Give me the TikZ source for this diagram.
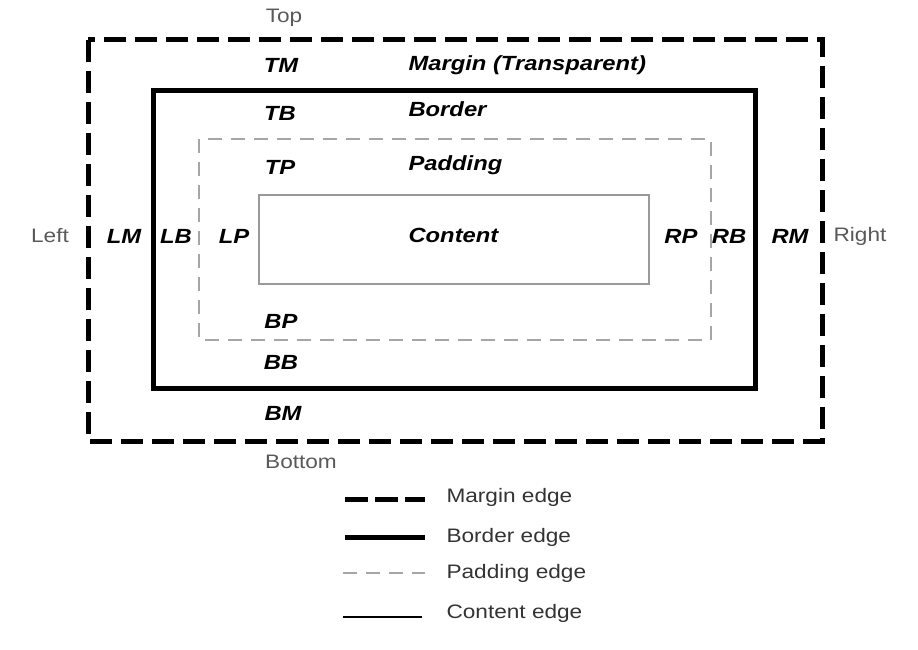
\documentclass[tikz,border=0pt]{standalone}
\usepackage{fontspec}
\setmainfont{Liberation Sans}[FakeStretch=1.16]
\begin{document}
\begin{tikzpicture}[x=1pt,y=-1pt,
  marginedge/.style={line width=5pt,dash pattern=on 22pt off 9pt},
  borderedge/.style={line width=5pt},
  paddingedge/.style={line width=1.3pt,draw=black!35,dash pattern=on 14pt off 9pt},
  contentedge/.style={line width=1.4pt,draw=black!40},
  lbl/.style={font=\fontsize{20.5}{23}\selectfont\bfseries\itshape},
  side/.style={font=\fontsize{19.5}{22}\selectfont,text=black!65},
  leg/.style={font=\fontsize{19.5}{22}\selectfont,text=black!80,anchor=west},
]
\useasboundingbox (0,0) rectangle (918,650);
% boxes
\draw[marginedge] (88,40) rectangle (822,441);
\draw[borderedge] (153,91) rectangle (755,388);
\draw[paddingedge] (199,139) rectangle (711,340);
\draw[contentedge] (259,195) rectangle (649,284);
% sides
\node[side] (top) at (284,18) {Top};
\node[side] (bottom) at (301,462) {Bottom};
\node[side] (left) at (50,236) {Left};
\node[side] (right) at (860,236) {Right};
% labels
\node[lbl] (tm) at (281,65) {TM};
\node[lbl] (tb) at (280,113) {TB};
\node[lbl] (tp) at (280,167) {TP};
\node[lbl] (bp) at (281,321) {BP};
\node[lbl] (bb) at (281,362) {BB};
\node[lbl] (bm) at (283,413) {BM};
\node[lbl] (lm) at (124,236) {LM};
\node[lbl] (lb) at (176,236) {LB};
\node[lbl] (lp) at (234,236) {LP};
\node[lbl] (rp) at (681,236) {RP};
\node[lbl] (rb) at (729,236) {RB};
\node[lbl] (rm) at (790,236) {RM};
\node[lbl,anchor=west] (mt) at (405,65) {Margin (Transparent)};
\node[lbl,anchor=west] (bt) at (405,109) {Border};
\node[lbl,anchor=west] (pt) at (405,165) {Padding};
\node[lbl,anchor=west] (ct) at (405,235) {Content};
% legend
\coordinate (l1a) at (345,499); \coordinate (l1b) at (425,499);
\coordinate (l2a) at (345,537); \coordinate (l2b) at (425,537);
\coordinate (l3a) at (343,573); \coordinate (l3b) at (425,573);
\coordinate (l4a) at (343,617); \coordinate (l4b) at (422,617);
\draw[line width=5pt,dash pattern=on 23pt off 7pt] (l1a) -- (l1b);
\draw[borderedge] (l2a) -- (l2b);
\draw[paddingedge] (l3a) -- (l3b);
\draw[line width=1.4pt] (l4a) -- (l4b);
\node[leg] (lg1) at (443,497) {Margin edge};
\node[leg] (lg2) at (443,537) {Border edge};
\node[leg] (lg3) at (443,573) {Padding edge};
\node[leg] (lg4) at (443,613) {Content edge};
\end{tikzpicture}
\end{document}
